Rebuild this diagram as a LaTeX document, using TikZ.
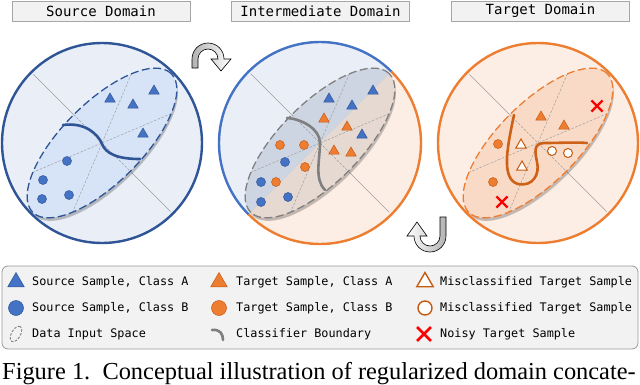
\documentclass[tikz,border=0pt]{standalone}
\usepackage{fontspec}
\setmainfont{Liberation Serif}
\setmonofont{DejaVu Sans Mono}
\usetikzlibrary{shapes.geometric, shapes.misc, positioning}

\definecolor{srcdark}{HTML}{2F5597}
\definecolor{srcblue}{HTML}{4472C4}
\definecolor{srcbg}{HTML}{E9EEF7}
\definecolor{srcell}{HTML}{D7E3F7}
\definecolor{tgtorange}{HTML}{ED7D31}
\definecolor{tgtdark}{HTML}{C55A11}
\definecolor{tgtbg}{HTML}{FDEEE5}
\definecolor{tgtell}{HTML}{F8DAC7}
\definecolor{midblue}{HTML}{CDD5E2}
\definecolor{midorange}{HTML}{E6D9D1}
\definecolor{bndgray}{HTML}{7F7F7F}
\definecolor{titlefill}{HTML}{F2F2F2}
\definecolor{titlegray}{HTML}{A6A6A6}
\definecolor{noisyred}{HTML}{FF0000}

\begin{document}
\begin{tikzpicture}[
    x=1pt, y=1pt,
    title/.style={draw=titlegray, fill=titlefill, line width=0.8pt, minimum width=178pt, minimum height=20pt, inner sep=0pt, font=\fontsize{14}{16}\ttfamily},
    axisline/.style={gray!75, line width=0.5pt},
    axisdash/.style={gray!75, line width=0.5pt, dash pattern=on 2.5pt off 1.5pt},
    spacedash/.style={line width=1.3pt, dash pattern=on 8pt off 3.5pt},
    boundary/.style={line width=2.6pt, line cap=round},
    srcA/.style={regular polygon, regular polygon sides=3, inner sep=0pt, minimum size=12pt, fill=srcblue, draw=srcdark, line width=0.5pt},
    srcB/.style={circle, inner sep=0pt, minimum size=9pt, fill=srcblue, draw=srcdark, line width=0.5pt},
    tgtA/.style={regular polygon, regular polygon sides=3, inner sep=0pt, minimum size=12pt, fill=tgtorange, draw=tgtdark, line width=0.5pt},
    tgtB/.style={circle, inner sep=0pt, minimum size=9pt, fill=tgtorange, draw=tgtdark, line width=0.5pt},
    missA/.style={regular polygon, regular polygon sides=3, inner sep=0pt, minimum size=12pt, fill=white, draw=tgtdark, line width=1pt},
    missB/.style={circle, inner sep=0pt, minimum size=9pt, fill=white, draw=tgtdark, line width=1pt},
    noisy/.style={cross out, inner sep=0pt, minimum size=9pt, draw=noisyred, line width=2.2pt},
    legtext/.style={anchor=west, inner sep=0pt, font=\fontsize{11.8}{14}\ttfamily},
    turn/.style={draw=black, line width=0.6pt, line join=miter}
]
    \useasboundingbox (0,0) rectangle (640,384);

    % Centres of the three domains
    \coordinate (c1) at (102,241);
    \coordinate (c2) at (320,241);
    \coordinate (c3) at (538,241);

    % Titles
    \node[title] (t1) at (101,373) {Source Domain};
    \node[title] (t2) at (320.5,373) {Intermediate Domain};
    \node[title] (t3) at (540.5,373) {Target Domain};

    % ---------------- Source domain ----------------
    \fill[srcbg] (c1) circle[radius=100];
    \draw[axisline] (c1) ++(135:97) -- ++(-45:194);
    \fill[black, opacity=0.12, rotate around={45:(103,238)}] (103,238) ellipse[x radius=98, y radius=40];
    \fill[black, opacity=0.12, rotate around={45:(104,237)}] (104,237) ellipse[x radius=97, y radius=39];
    \fill[srcell, rotate around={45:(c1)}] (c1) ellipse[x radius=98, y radius=40];
    \draw[axisdash] (c1) ++(23:75) -- ++(203:150);
    \draw[axisdash] (c1) ++(67:75) -- ++(247:150);
    \draw[axisdash] (c1) ++(135:40) -- ++(-45:80);
    \draw[spacedash, srcdark, rotate around={45:(c1)}] (c1) ellipse[x radius=98, y radius=40];
    \draw[boundary, srcdark] (63,259) .. controls (85,262) and (98,250) .. (102,240)
        .. controls (106,230) and (118,225) .. (140,225);
    \foreach \p [count=\i] in {(110,285),(133,279),(154,293),(143,250)}
        \node[srcA] (s-a\i) at \p {};
    \foreach \p [count=\i] in {(67,223),(43,204),(42,185),(69,189)}
        \node[srcB] (s-b\i) at \p {};
    \draw[srcdark, line width=2.4pt] (c1) circle[radius=100];

    % ---------------- Intermediate domain ----------------
    \begin{scope}
        \clip (c2) circle[radius=101];
        \fill[srcbg, rotate around={45:(c2)}] (210,241) rectangle (430,351);
        \fill[tgtbg, rotate around={45:(c2)}] (210,241) rectangle (430,131);
    \end{scope}
    \draw[axisline] (c2) ++(135:98) -- ++(-45:196);
    \fill[black, opacity=0.12, rotate around={45:(321,238)}] (321,238) ellipse[x radius=98, y radius=40];
    \fill[black, opacity=0.12, rotate around={45:(322,237)}] (322,237) ellipse[x radius=97, y radius=39];
    \begin{scope}
        \clip[rotate around={45:(c2)}] (c2) ellipse[x radius=98, y radius=40];
        \fill[midblue, rotate around={45:(c2)}] (210,241) rectangle (430,351);
        \fill[midorange, rotate around={45:(c2)}] (210,241) rectangle (430,131);
    \end{scope}
    \draw[axisdash] (c2) ++(23:75) -- ++(203:150);
    \draw[axisdash] (c2) ++(67:75) -- ++(247:150);
    \draw[axisdash] (c2) ++(135:40) -- ++(-45:80);
    \draw[spacedash, gray, rotate around={45:(c2)}] (c2) ellipse[x radius=98, y radius=40];
    \draw[boundary, bndgray] (287,266) .. controls (302,265) and (320,255) .. (320,241)
        .. controls (320,225) and (314,205) .. (325,194);
    \foreach \p [count=\i] in {(329,285),(352,278),(373,293),(362,249)}
        \node[srcA] (m-sa\i) at \p {};
    \foreach \p [count=\i] in {(324,265),(347,257),(334,233),(351,231)}
        \node[tgtA] (m-ta\i) at \p {};
    \foreach \p [count=\i] in {(280,239),(304,239),(305,217),(276,202)}
        \node[tgtB] (m-tb\i) at \p {};
    \foreach \p [count=\i] in {(285,222),(261,202),(261,182),(288,187)}
        \node[srcB] (m-sb\i) at \p {};
    \draw[srcblue, line width=2.4pt] (c2) ++(45:101) arc[start angle=45, end angle=225, radius=101];
    \draw[tgtorange, line width=2.4pt] (c2) ++(225:101) arc[start angle=225, end angle=405, radius=101];

    % ---------------- Target domain ----------------
    \fill[tgtbg] (c3) circle[radius=100];
    \draw[axisline] (c3) ++(135:97) -- ++(-45:194);
    \fill[black, opacity=0.12, rotate around={45:(539,238)}] (539,238) ellipse[x radius=98, y radius=40];
    \fill[black, opacity=0.12, rotate around={45:(540,237)}] (540,237) ellipse[x radius=97, y radius=39];
    \fill[tgtell, rotate around={45:(c3)}] (c3) ellipse[x radius=98, y radius=40];
    \draw[axisdash] (c3) ++(23:75) -- ++(203:150);
    \draw[axisdash] (c3) ++(67:75) -- ++(247:150);
    \draw[axisdash] (c3) ++(135:40) -- ++(-45:80);
    \draw[spacedash, tgtorange, rotate around={45:(c3)}] (c3) ellipse[x radius=98, y radius=40];
    \draw[boundary, tgtdark!80!tgtorange] (514,269) .. controls (508,240) and (500,205) .. (518,200)
        .. controls (533,197) and (540,210) .. (537,222)
        .. controls (535,232) and (533,241) .. (545,241)
        .. controls (560,241) and (575,242) .. (587,241);
    \foreach \p [count=\i] in {(541,267),(564,258)}
        \node[tgtA] (t-a\i) at \p {};
    \foreach \p [count=\i] in {(498,240),(493,202)}
        \node[tgtB] (t-b\i) at \p {};
    \foreach \p [count=\i] in {(521,239),(522,217)}
        \node[missA] (t-ma\i) at \p {};
    \foreach \p [count=\i] in {(552,233),(568,231)}
        \node[missB] (t-mb\i) at \p {};
    \node[noisy] (t-x1) at (597,278) {};
    \node[noisy] (t-x2) at (502,182) {};
    \draw[tgtorange, line width=2.4pt] (c3) circle[radius=100];

    % Turning arrows between the domains
    \draw[turn, left color=gray!60, right color=white]
        (192,316) -- (192,325) arc[start angle=180, end angle=0, radius=16]
        -- (231,325) -- (221,313) -- (211,325) -- (218,325)
        arc[start angle=0, end angle=180, radius=10] -- (198,316) -- cycle;
    \draw[turn, left color=white, right color=gray!60]
        (446,167) -- (446,148) arc[start angle=0, end angle=-180, radius=16]
        -- (407,148) -- (417,162) -- (427,148) -- (420,148)
        arc[start angle=180, end angle=360, radius=10] -- (440,167) -- cycle;

    % ---------------- Legend ----------------
    \draw[rounded corners=6pt, fill=titlefill, draw=gray!80, line width=0.8pt] (2,35) rectangle (638,118);
    \node[srcA, minimum size=19pt] (l-sa) at (16,102) {};
    \node[legtext] (l-sa-t) at (32,102) {Source Sample, Class A};
    \node[srcB, minimum size=15pt] (l-sb) at (16,76) {};
    \node[legtext] (l-sb-t) at (32,76) {Source Sample, Class B};
    \draw[gray, line width=0.9pt, dash pattern=on 2.5pt off 1.5pt, rotate around={60:(16,50)}] (16,50) ellipse[x radius=8.5, y radius=4.5];
    \node[legtext] (l-ds-t) at (32,50) {Data Input Space};

    \node[tgtA, minimum size=19pt] (l-ta) at (219,102) {};
    \node[legtext] (l-ta-t) at (236,102) {Target Sample, Class A};
    \node[tgtB, minimum size=15pt] (l-tb) at (219,76) {};
    \node[legtext] (l-tb-t) at (236,76) {Target Sample, Class B};
    \draw[bndgray, line width=2.6pt, line cap=round] (212,54) .. controls (220,55) and (223,50) .. (223,44);
    \node[legtext] (l-cb-t) at (236,50) {Classifier Boundary};

    \node[missA, minimum size=19pt, line width=1.4pt] (l-ma) at (425,102) {};
    \node[legtext] (l-ma-t) at (440,102) {Misclassified Target Sample};
    \node[missB, minimum size=14pt, line width=1.4pt] (l-mb) at (425,76) {};
    \node[legtext] (l-mb-t) at (440,76) {Misclassified Target Sample};
    \node[noisy, minimum size=11pt, line width=2.8pt] (l-nx) at (424,50) {};
    \node[legtext] (l-nx-t) at (440,50) {Noisy Target Sample};

    % Caption
    \node[anchor=base west, inner sep=0pt, font=\fontsize{24.4}{26}\selectfont] (caption) at (2,5)
        {Figure 1.\ \ Conceptual illustration of regularized domain concate-};
\end{tikzpicture}
\end{document}
